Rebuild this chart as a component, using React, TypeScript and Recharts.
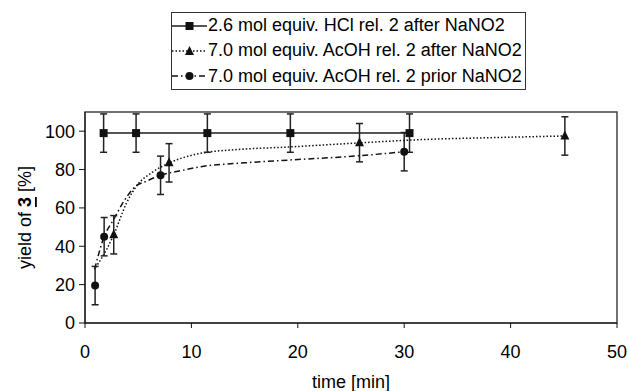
import React from 'react';
import {
  ComposedChart,
  Line,
  Scatter,
  XAxis,
  YAxis,
  ErrorBar,
  ReferenceArea,
  Legend,
} from 'recharts';

// measured points (time in min, yield in %)
const hclTime = [1.75, 4.8, 11.5, 19.3, 30.5];
const hclYield = [99, 99, 99, 99, 99];
const afterTime = [2.7, 7.9, 25.8, 45.1];
const afterYield = [46, 83.5, 94, 97.5];
const priorTime = [0.95, 1.8, 7.1, 30];
const priorYield = [19.5, 45, 77, 89.3];
const yieldError = 10;

// trend curves
const afterFitTime = [1.0, 2.0, 2.7, 3.9, 5.0, 6.3, 7.9, 10.9, 14, 19.3, 25.8, 31.6, 38, 45.1];
const afterFitYield = [29, 38, 46, 62.5, 72.5, 78.5, 83.4, 88.5, 90.3, 91.8, 93.9, 95.6, 96.6, 97.5];
const priorFitTime = [0.9, 1.8, 2.7, 3.6, 4.7, 5.8, 7.1, 9.0, 10.9, 15, 19.3, 25.8, 30];
const priorFitYield = [28, 45, 54, 63, 71, 74, 77, 79.4, 81.5, 83.5, 85, 87.2, 89.3];

const xTicks = [0, 10, 20, 30, 40, 50];
const yTicks = [0, 20, 40, 60, 80, 100];

const seriesNames = [
  '2.6 mol equiv. HCl rel. 2 after NaNO2',
  '7.0 mol equiv. AcOH rel. 2 after NaNO2',
  '7.0 mol equiv. AcOH rel. 2 prior NaNO2',
];

const toPoints = (xs: number[], ys: number[]) =>
  xs.map((x, i) => ({ x, y: ys[i], err: yieldError }));
const toCurve = (xs: number[], ys: number[]) => xs.map((x, i) => ({ x, y: ys[i] }));

const hclData = toPoints(hclTime, hclYield);
const afterData = toPoints(afterTime, afterYield);
const priorData = toPoints(priorTime, priorYield);
const afterFit = toCurve(afterFitTime, afterFitYield);
const priorFit = toCurve(priorFitTime, priorFitYield);

const FONT = '"Liberation Sans", Arial, sans-serif';
const INK = '#111';

const SquareMark = ({ cx, cy }: any) => <rect x={cx - 4} y={cy - 4} width={8} height={8} fill={INK} />;
const TriangleMark = ({ cx, cy }: any) => (
  <polygon points={`${cx},${cy - 5.5} ${cx - 4.5},${cy + 3.5} ${cx + 4.5},${cy + 3.5}`} fill={INK} />
);
const CircleMark = ({ cx, cy }: any) => <circle cx={cx} cy={cy} r={4} fill={INK} />;

const legendRows = [
  { name: seriesNames[0], dash: undefined, width: 2, stroke: '#555', mark: 'square' },
  { name: seriesNames[1], dash: '1.5 2', width: 1.5, stroke: INK, mark: 'triangle' },
  { name: seriesNames[2], dash: '6 3 1.5 3', width: 1.5, stroke: INK, mark: 'circle' },
];

const LegendBox = () => (
  <div
    style={{
      border: '1px solid #333',
      background: '#fff',
      fontFamily: FONT,
      fontSize: 18,
      color: '#000',
      width: 353,
      boxSizing: 'content-box',
    }}
  >
    {legendRows.map((r) => (
      <div key={r.name} style={{ display: 'flex', alignItems: 'center', height: 25.3 }}>
        <svg width={36} height={12} style={{ flex: 'none' }}>
          <line x1={0} y1={6} x2={35} y2={6} stroke={r.stroke} strokeWidth={r.width} strokeDasharray={r.dash} />
          {r.mark === 'square' && <SquareMark cx={17.5} cy={6} />}
          {r.mark === 'triangle' && <TriangleMark cx={17.5} cy={6.5} />}
          {r.mark === 'circle' && <CircleMark cx={17.5} cy={6} />}
        </svg>
        <span style={{ whiteSpace: 'nowrap' }}>{r.name}</span>
      </div>
    ))}
  </div>
);

const YTitle = ({ viewBox }: any) => {
  const cx = 25;
  const cy = viewBox.y + viewBox.height / 2;
  return (
    <text
      x={cx}
      y={cy}
      transform={`rotate(-90, ${cx}, ${cy})`}
      textAnchor="middle"
      dominantBaseline="central"
      fontSize={18}
      fill="#000"
    >
      yield of{' '}
      <tspan fontWeight="bold" style={{ textDecoration: 'underline' }}>
        3
      </tspan>{' '}
      [%]
    </text>
  );
};

export default function App() {
  return (
    <div style={{ position: 'absolute', left: 0, top: 0, width: 628, height: 391, background: '#fff', fontFamily: FONT }}>
      <ComposedChart width={628} height={391} margin={{ top: 112, right: 11, bottom: 0, left: 0 }}>
        <XAxis
          type="number"
          dataKey="x"
          domain={[0, 50]}
          ticks={xTicks}
          height={68}
          tick={{ fill: '#000', fontSize: 18 }}
          tickSize={5}
          tickMargin={17}
          axisLine={{ stroke: INK }}
          tickLine={{ stroke: INK }}
          label={{ value: 'time [min]', position: 'insideBottom', offset: 3, fill: '#000', fontSize: 18 }}
        />
        <YAxis
          type="number"
          dataKey="y"
          domain={[0, 110]}
          ticks={yTicks}
          width={85}
          tick={{ fill: '#000', fontSize: 18 }}
          tickSize={6}
          tickMargin={4}
          axisLine={{ stroke: INK }}
          tickLine={{ stroke: INK }}
          label={<YTitle />}
        />
        <ReferenceArea x1={0} x2={50} y1={0} y2={110} fill="none" stroke="#444" strokeWidth={1.5} />
        <Legend
          layout="vertical"
          align="center"
          verticalAlign="middle"
          content={() => <LegendBox />}
          wrapperStyle={{ position: 'absolute', left: 171, top: 12, width: 355, height: 77 }}
        />
        <Line
          data={hclData}
          dataKey="y"
          name={seriesNames[0]}
          stroke="#555"
          strokeWidth={2}
          dot={false}
          activeDot={false}
          isAnimationActive={false}
        />
        <Line
          data={afterFit}
          dataKey="y"
          type="monotone"
          stroke={INK}
          strokeWidth={1.5}
          strokeDasharray="1.5 2"
          dot={false}
          activeDot={false}
          isAnimationActive={false}
          legendType="none"
        />
        <Line
          data={priorFit}
          dataKey="y"
          type="monotone"
          stroke={INK}
          strokeWidth={1.5}
          strokeDasharray="6 3 1.5 3"
          dot={false}
          activeDot={false}
          isAnimationActive={false}
          legendType="none"
        />
        <Scatter data={hclData} dataKey="y" shape={<SquareMark />} isAnimationActive={false}>
          <ErrorBar dataKey="err" direction="y" width={3.5} stroke="#222" strokeWidth={1.5} />
        </Scatter>
        <Scatter data={afterData} dataKey="y" name={seriesNames[1]} shape={<TriangleMark />} isAnimationActive={false}>
          <ErrorBar dataKey="err" direction="y" width={3.5} stroke="#222" strokeWidth={1.5} />
        </Scatter>
        <Scatter data={priorData} dataKey="y" name={seriesNames[2]} shape={<CircleMark />} isAnimationActive={false}>
          <ErrorBar dataKey="err" direction="y" width={3.5} stroke="#222" strokeWidth={1.5} />
        </Scatter>
      </ComposedChart>
    </div>
  );
}
